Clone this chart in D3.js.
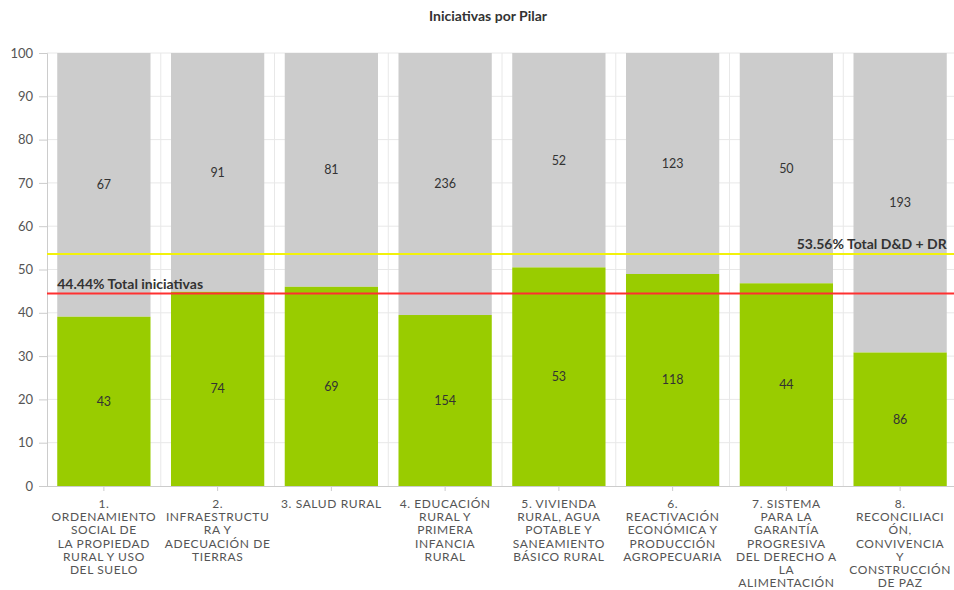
<!DOCTYPE html>
<html><head><meta charset="utf-8">
<script src="https://cdn.jsdelivr.net/npm/d3@7"></script>
<style>
html,body{margin:0;padding:0;background:#fff;}
svg{display:block;font-family:Lato, "Open Sans", sans-serif;}
</style></head>
<body>
<svg id="chart" width="954" height="590"></svg>
<script>
const categories = ["1","2","3","4","5","6","7","8"];
const categoryLabels = [
  ["1.","ORDENAMIENTO","SOCIAL DE","LA PROPIEDAD","RURAL Y USO","DEL SUELO"],
  ["2.","INFRAESTRUCTU","RA Y","ADECUACIÓN DE","TIERRAS"],
  ["3. SALUD RURAL"],
  ["4. EDUCACIÓN","RURAL Y","PRIMERA","INFANCIA","RURAL"],
  ["5. VIVIENDA","RURAL, AGUA","POTABLE Y","SANEAMIENTO","BÁSICO RURAL"],
  ["6.","REACTIVACIÓN","ECONÓMICA Y","PRODUCCIÓN","AGROPECUARIA"],
  ["7. SISTEMA","PARA LA","GARANTÍA","PROGRESIVA","DEL DERECHO A","LA","ALIMENTACIÓN"],
  ["8.","RECONCILIACI","ÓN,","CONVIVENCIA","Y","CONSTRUCCIÓN","DE PAZ"]
];
const greenValues = [43, 74, 69, 154, 53, 118, 44, 86];
const grayValues  = [67, 91, 81, 236, 52, 123, 50, 193];
const yTicks = [0,10,20,30,40,50,60,70,80,90,100];
const refLines = [
  {value: 44.44, label: "44.44% Total iniciativas", color: "#ff3030", align: "left"},
  {value: 53.56, label: "53.56% Total D&D + DR", color: "#f2f20a", align: "right"}
];
const title = "Iniciativas por Pilar";

const svg = d3.select("#chart");
const pLeft = 47, pRight = 957, pTop = 53, pBottom = 486;

const x = d3.scaleBand().domain(categories).range([pLeft, pRight]).paddingInner(0.18).paddingOuter(0.09);
const y = d3.scaleLinear().domain([0, 100]).range([pBottom, pTop]);

// title
svg.append("text").attr("x", 488).attr("y", 21).attr("text-anchor", "middle")
  .attr("font-size", 14).attr("font-weight", "bold").attr("fill", "#333").text(title);

// grid horizontal
svg.append("g").selectAll("line").data(yTicks.filter(d => d > 0)).join("line")
  .attr("x1", pLeft).attr("x2", pRight).attr("y1", d => y(d)).attr("y2", d => y(d))
  .attr("stroke", "#e8e8e8").attr("stroke-width", 1);
// grid vertical at category boundaries
const bounds = d3.range(categories.length + 1).map(i => pLeft + i * x.step());
svg.append("g").selectAll("line").data(bounds.slice(1)).join("line")
  .attr("x1", d => d).attr("x2", d => d).attr("y1", pTop).attr("y2", pBottom)
  .attr("stroke", "#e8e8e8").attr("stroke-width", 1);

// stacked 100% data
const rows = categories.map((c, i) => {
  const t = greenValues[i] + grayValues[i];
  return {cat: c, g: greenValues[i], r: grayValues[i], gp: greenValues[i] / t * 100};
});

const bars = svg.append("g");
bars.selectAll("rect.gray").data(rows).join("rect").attr("class", "gray")
  .attr("x", d => x(d.cat)).attr("width", x.bandwidth())
  .attr("y", y(100)).attr("height", d => y(d.gp) - y(100)).attr("fill", "#cccccc");
bars.selectAll("rect.green").data(rows).join("rect").attr("class", "green")
  .attr("x", d => x(d.cat)).attr("width", x.bandwidth())
  .attr("y", d => y(d.gp)).attr("height", d => y(0) - y(d.gp)).attr("fill", "#99cc00");

// value labels
const lab = svg.append("g").attr("font-size", 12.5).attr("fill", "#333").attr("text-anchor", "middle");
lab.selectAll("text.g").data(rows).join("text").attr("class", "g")
  .attr("x", d => x(d.cat) + x.bandwidth() / 2).attr("y", d => y(d.gp / 2)).attr("dy", "0.35em").text(d => d.g);
lab.selectAll("text.r").data(rows).join("text").attr("class", "r")
  .attr("x", d => x(d.cat) + x.bandwidth() / 2).attr("y", d => y((d.gp + 100) / 2)).attr("dy", "0.35em").text(d => d.r);

// y axis
const yAxis = svg.append("g").attr("transform", `translate(${pLeft},0)`)
  .call(d3.axisLeft(y).tickValues(yTicks).tickSize(8).tickPadding(6));
yAxis.select(".domain").attr("stroke", "#ccc");
yAxis.selectAll(".tick line").attr("stroke", "#ccc");
yAxis.selectAll("text").attr("font-size", 13).attr("fill", "#555").attr("font-family", "Lato, sans-serif");
yAxis.selectAll(".tick").filter(d => d === 0).select("line").remove();

// x axis
const xAxis = svg.append("g").attr("transform", `translate(0,${pBottom})`)
  .call(d3.axisBottom(x).tickSize(5).tickFormat(""));
xAxis.select(".domain").attr("d", `M${pLeft - 8},0.5H${pRight}`).attr("stroke", "#ccc");
xAxis.selectAll(".tick line").attr("stroke", "#ccc");
xAxis.selectAll(".tick").each(function(d, i) {
  const t = d3.select(this).append("text").attr("fill", "#555").attr("font-size", 12)
    .attr("letter-spacing", 0.6)
    .attr("font-family", "Lato, sans-serif").attr("text-anchor", "middle").attr("y", 22);
  categoryLabels[i].forEach((ln, j) => {
    t.append("tspan").attr("x", 0).attr("dy", j === 0 ? 0 : 13.2).text(ln);
  });
});

// reference lines
refLines.forEach(r => {
  svg.append("line").attr("x1", pLeft).attr("x2", pRight).attr("y1", y(r.value)).attr("y2", y(r.value))
    .attr("stroke", r.color).attr("stroke-width", 2);
  svg.append("text")
    .attr("x", r.align === "left" ? x(categories[0]) : x(categories[categories.length - 1]) + x.bandwidth())
    .attr("y", y(r.value) - 5)
    .attr("text-anchor", r.align === "left" ? "start" : "end")
    .attr("font-size", 14).attr("font-weight", "bold").attr("fill", "#333").text(r.label);
});
</script>
</body></html>
